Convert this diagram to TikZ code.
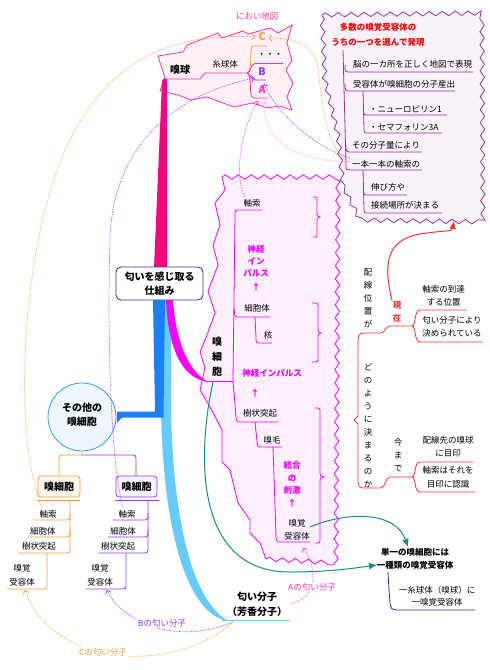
\documentclass[tikz,border=0pt]{standalone}
\usepackage{fontspec}
\setmainfont{Noto Sans CJK JP}
\usetikzlibrary{arrows.meta,decorations.pathmorphing}
\definecolor{dpink}{HTML}{FF0080}
\definecolor{qpink}{HTML}{FF3399}
\definecolor{qfill}{HTML}{FFF0F7}
\definecolor{mag}{HTML}{FF00FF}
\definecolor{magfill}{HTML}{FFF0FF}
\definecolor{apink}{HTML}{FF33CC}
\definecolor{lpink}{HTML}{FF99EE}
\definecolor{blu}{HTML}{1A80FF}
\definecolor{lblu}{HTML}{66CCFF}
\definecolor{org}{HTML}{FF9933}
\definecolor{orgfill}{HTML}{FFF6EC}
\definecolor{pur}{HTML}{9933FF}
\definecolor{purfill}{HTML}{F6F0FF}
\definecolor{vio}{HTML}{993399}
\definecolor{viofill}{HTML}{FAF2FA}
\definecolor{tea}{HTML}{1F8A85}
\definecolor{rd}{HTML}{FF3333}
\definecolor{titlered}{HTML}{FF0000}
\definecolor{navy}{HTML}{333399}
\definecolor{cblu}{HTML}{3399FF}
\definecolor{cfill}{HTML}{EEF6FF}
\begin{document}
\begin{tikzpicture}[x=1pt,y=-1pt,
  t/.style={font=\fontsize{8.5}{13}\selectfont, inner sep=0pt, align=center},
  tl/.style={t, anchor=west},
  tten/.style={font=\bfseries\fontsize{10.5}{12}\selectfont, inner sep=0pt},
  tb/.style={font=\bfseries\fontsize{10}{14.5}\selectfont, inner sep=0pt, align=center},
  tsb/.style={font=\bfseries\fontsize{8.5}{12.5}\selectfont, inner sep=0pt, align=center},
  ln/.style={line width=0.8pt},
  dotc/.style={densely dotted, line width=0.7pt, -{Straight Barb[length=3pt,width=6pt]}},
  jagdec/.style={decoration={zigzag, segment length=13pt, amplitude=2.2pt}},
  tip/.style={-{Latex[length=8pt,width=7pt]}},
]
\useasboundingbox (0,0) rectangle (490,670);

% ---------- shapes ----------
\filldraw[qpink, fill=qfill, line width=0.8pt] (158,56) -- (183,52) -- (187,45) -- (218,33) -- (222,38) -- (243,31) -- (248,34) -- (270,28) -- (278,33) -- (292,25) -- (287,43) -- (292,60) -- (286,70) -- (293,83) -- (287,97) -- (292,110) -- (279,106) -- (268,108) -- (252,103) -- (234,107) -- (207,97) -- (191,100) -- (178,95) -- (160,91) -- (165,78) -- cycle;

\filldraw[vio, fill=viofill, line width=0.8pt, decorate, jagdec] (322,15) -- (482,13) -- (483,222) -- (360,220) -- (343,186) -- (338,135) -- (325,80) -- cycle;

\filldraw[mag, fill=magfill, line width=0.8pt] decorate[jagdec]{(222,177) -- (338,177) -- (336,563) -- (266,559)} -- (260,543) -- (250,533) -- (250,520) -- (238,503) -- (230,470) -- (222,462) -- (222,430) -- (210,407) -- (200,390) -- (205,368) -- (200,352) -- (207,335) -- (215,313) -- (208,291) -- (218,265) -- (213,245) -- (220,225) -- (215,203) -- (225,190) -- cycle;

% ---------- main branches ----------
\fill[lblu] (160,300) -- (161,410) .. controls (163,520) and (183,605) .. (222,619.5) -- (228,621) .. controls (192,600) and (173,520) .. (171,410) -- (171,300) -- cycle;
\draw[lblu, line width=1pt] (222,620.5) -- (290,620.5);
\fill[blu] (153,300) -- (155,411.5) -- (117,411.5) -- (117,423) -- (122,417.5) -- (163.5,417.5) -- (165,300) -- cycle;
\fill[mag] (166,300) .. controls (168,345) and (180,378) .. (208,382) .. controls (190,372) and (176,345) .. (173,300) -- cycle;
\fill[dpink] (154,268) -- (162,82) .. controls (162.5,79) .. (166,78.5) -- (167,79) -- (167,268) -- cycle;

\node[tb, draw=navy, fill=white, rounded corners=5pt, line width=0.9pt, minimum width=87pt, minimum height=33pt] (root) at (159.5,283.5) {匂いを感じ取る\\仕組み};

% ---------- olfactory bulb ----------
\node[t, text=qpink] (nmap) at (257,16) {におい地図};
\node[tb] (kyu) at (180,70) {嗅球};
\node[t] (shi) at (225,64) {糸球体};
\node[tten, text=org] (nC) at (262,37) {C};
\node[t] (ndots) at (270,55) {・・・};
\node[tten, text=pur] (nB) at (262,72) {B};
\node[tten, text=apink] (nA) at (262,90) {A};
\draw[qpink,ln] (166,79) -- (200,79) -- (205,73) -- (247,73);
\draw[org,ln] (247,73) .. controls (251,73) and (250.5,60) .. (251,52) .. controls (251.5,46) .. (256,46) -- (267,46);
\draw[qpink,ln] (247,73) .. controls (251,73) and (250,64) .. (255,63.5) -- (283,63.5);
\draw[pur,ln] (247,73) .. controls (250,73) and (250,80) .. (255,80) -- (266,80);
\draw[apink,ln] (247,73) .. controls (251,73) and (250,90) .. (251,94) .. controls (252,98) .. (256,98) -- (268,98);
\coordinate (cL) at (255.5,37);
\coordinate (cR) at (268.5,38);
\coordinate (bL) at (255,78);
\coordinate (bB) at (264,84);
\coordinate (aB) at (264,101);
\coordinate (aL) at (258,101);

% ---------- purple box ----------
\node[tsb, text=titlered, font=\bfseries\fontsize{8.5}{15}\selectfont] (title) at (378,34.5) {多数の嗅覚受容体の\\うちの一つを選んで発現};
\draw[vio,ln] (343,50) -- (346,164) .. controls (346,170) .. (352,170) -- (422,170);
\draw[vio,ln] (345,65) .. controls (345,72) .. (351,72) -- (473,72);
\draw[vio,ln] (345,84) .. controls (345,91) .. (351,91) -- (455,91);
\draw[vio,ln] (346,145) .. controls (346,152) .. (352,152) -- (422,152);
\draw[vio,ln] (363,91) -- (364,128) .. controls (364,133) .. (369,133) -- (442,133);
\draw[vio,ln] (363.5,109) .. controls (363.5,115) .. (369,115) -- (447,115);
\draw[vio,ln] (363,170) -- (364,208) .. controls (364,213) .. (369,213) -- (442,213);
\draw[vio,ln] (363.5,189) .. controls (363.5,195) .. (369,195) -- (407,195);
\node[tl] (p1) at (353,64) {脳の一カ所を正しく地図で表現};
\node[tl] (p2) at (353,84) {受容体が嗅細胞の分子産出};
\node[tl] (p3) at (369,109) {・ニューロピリン1};
\node[tl] (p4) at (369,127) {・セマフォリン3A};
\node[tl] (p5) at (352,145) {その分子量により};
\node[tl] (p6) at (352,164) {一本一本の軸索の};
\node[tl] (p7) at (371,187) {伸び方や};
\node[tl] (p8) at (371,205) {接続場所が決まる};
\coordinate (axs) at (350,162);

% ---------- red brace ----------
\draw[rd,ln] (412,326) -- (390,326) .. controls (385,326) and (386,333) .. (380,333) -- (364,333) .. controls (359,333) and (358,336) .. (358,340) -- (358,416) -- (354,420) -- (358,424) -- (358,481) .. controls (358,486) and (359,488) .. (364,488) -- (380,488) .. controls (386,488) and (385,477) .. (390,477) -- (412,477);
\draw[rd,ln] (412,326) .. controls (416,326) and (414,310) .. (420,310) -- (467,310);
\draw[rd,ln] (412,326) .. controls (416,326) and (414,342) .. (420,342) -- (483,342);
\draw[rd,ln] (412,477) .. controls (416,477) and (414,462) .. (420,462) -- (473,462);
\draw[rd,ln] (412,477) .. controls (416,477) and (414,492) .. (420,492) -- (475,492);
\node[t] (v1) at (368,298) {配\\線\\位\\置\\が};
\node[t] (v2) at (368,425.5) {ど\\の\\よ\\う\\に\\決\\ま\\る\\の\\か};
\node[tsb, text=rd, font=\bfseries\fontsize{8.5}{13}\selectfont] (now) at (397,311.5) {現\\在};
\node[t] (past) at (398,455) {今\\ま\\で};
\node[t, font=\fontsize{8.5}{12.5}\selectfont] (r1) at (443.5,296) {軸索の到達\\する位置};
\node[t] (r2) at (452,326.5) {匂い分子により\\決められている};
\node[t] (r3) at (448,446.5) {配線先の嗅球\\に目印};
\node[t, font=\fontsize{8.5}{14.5}\selectfont] (r4) at (448,477.5) {軸索はそれを\\目印に認識};
\coordinate (boxbot) at (454,221);
\coordinate (nowT) at (392,300);
\draw[rd, line width=1pt, tip] (nowT) .. controls (384,268) and (384,240) .. (420,234) .. controls (445,230) and (452,232) .. (boxbot);

% ---------- olfactory cell ----------
\draw[mag,ln] (205,381) -- (233,381);
\draw[mag,ln] (233,381) -- (235,216) .. controls (235,210) .. (241,210) -- (262,210);
\draw[mag,ln] (234.5,310) .. controls (234.5,317) .. (241,317) -- (270,317);
\draw[mag,ln] (255,317) -- (256,337) .. controls (256,343) .. (262,343) -- (272,343);
\draw[mag,ln] (233,381) -- (236,416) .. controls (236.5,422) .. (242,422) -- (278,422);
\draw[mag,ln] (255,422) -- (257,441) .. controls (257.5,447) .. (263,447) -- (282,447);
\draw[mag,ln] (273,447) -- (276,536) .. controls (276.5,542) .. (282,542) -- (310,542);
\draw[mag,ln] (313,197) .. controls (317,197) .. (317,201) -- (317,213) .. controls (317,216) .. (320,217) .. controls (317,218) .. (317,221) -- (317,233) .. controls (317,237) .. (313,237);
\draw[mag,ln] (312,303) .. controls (318,303) .. (318,307) -- (318,329) .. controls (318,332) .. (321,333) .. controls (318,334) .. (318,337) -- (318,358) .. controls (318,362) .. (312,362);
\draw[mag,ln] (315,408) .. controls (320,408) .. (320,412) -- (320,473) .. controls (320,476) .. (324,477) .. controls (320,478) .. (320,481) -- (320,538) .. controls (320,543) .. (315,543);
\node[tb, font=\bfseries\fontsize{10}{15}\selectfont] (sc) at (217,357) {嗅\\細\\胞};
\node[t] (ax) at (252,203) {軸索};
\node[tsb, text=mag, font=\bfseries\fontsize{8.5}{12}\selectfont] (imp1) at (256,261) {神経\\イン\\パルス};
\node[tsb, text=mag] (ar1) at (256,287) {↑};
\node[t] (cb) at (257,308) {細胞体};
\node[t] (kaku) at (268,335) {核};
\node[tsb, text=mag] (imp2) at (272,373) {神経インパルス};
\node[tsb, text=mag] (ar2) at (255,393) {↑};
\node[t] (jus) at (260,413) {樹状突起};
\node[t] (mou) at (272,440) {嗅毛};
\node[tsb, text=mag] (ket) at (292,478) {結合\\の\\刺激};
\node[tsb, text=mag] (ar3) at (292,503) {↑};
\node[t] (rec) at (297,529.5) {嗅覚\\受容体};
\coordinate (recR) at (310,527);
\coordinate (recB) at (303,548);
\coordinate (scB) at (213,382);
\coordinate (axT) at (245,197);

% ---------- one cell one receptor ----------
\node[tsb] (single) at (415,558.5) {単一の嗅細胞には\\一種類の嗅覚受容体};
\draw[navy,ln] (388,572) .. controls (389,590) .. (390,603) .. controls (391,609) .. (397,610) -- (475,610);
\node[t, font=\fontsize{8.5}{12.5}\selectfont] (one) at (437,596) {一糸球体（嗅球）に\\一嗅覚受容体};
\coordinate (singT) at (408,547);
\coordinate (singL) at (377,565);
\draw[tea, line width=1pt, tip] (recR) .. controls (345,512) and (395,510) .. (singT);
\draw[tea, line width=1pt, tip] (scB) .. controls (198,450) and (192,572) .. (290,572) .. controls (330,572) and (355,568) .. (singL);

% ---------- other cells ----------
\node[circle, draw=cblu, fill=cfill, line width=0.8pt, minimum size=68pt, inner sep=0pt] (other) at (82,417) {};
\node[tb] (otherT) at (82,414.5) {その他の\\嗅細胞};
\draw[org,ln] (other.south) -- (82,455) -- (65,455) .. controls (59,455) .. (59,461) -- (59,476);
\draw[pur,ln] (82,455) -- (130,455) .. controls (136,455) .. (136,461) -- (136,476);
\node[tb, draw=org, fill=orgfill, rounded corners=3pt, minimum width=42pt, minimum height=21pt, line width=0.8pt] (oc) at (59,486.5) {嗅細胞};
\node[tb, draw=pur, fill=purfill, rounded corners=3pt, minimum width=41pt, minimum height=21pt, line width=0.8pt] (pc) at (136.5,486.5) {嗅細胞};
\draw[org,ln] (37,500) -- (80,500);
\draw[org,ln] (70,500) -- (70,547) .. controls (70,553) .. (64,553) -- (18,553);
\draw[org,ln] (70,513) .. controls (70,520) .. (64,520) -- (33,520);
\draw[org,ln] (70,530) .. controls (70,537) .. (64,537) -- (28,537);
\draw[org,ln] (47,553) -- (47,583) .. controls (47,589) .. (41,589) -- (7,589);
\draw[pur,ln] (115,500) -- (159,500);
\draw[pur,ln] (148,500) -- (148,547) .. controls (148,553) .. (142,553) -- (98,553);
\draw[pur,ln] (148,513) .. controls (148,520) .. (142,520) -- (113,520);
\draw[pur,ln] (148,530) .. controls (148,537) .. (142,537) -- (108,537);
\draw[pur,ln] (126,553) -- (126,583) .. controls (126,589) .. (120,589) -- (86,589);
\node[t] (o1) at (48,514) {軸索};
\node[t] (o2) at (43,531) {細胞体};
\node[t] (o3) at (39,546) {樹状突起};
\node[t, font=\fontsize{8.5}{14}\selectfont] (o4) at (22,575) {嗅覚\\受容体};
\node[t] (q1) at (127,514) {軸索};
\node[t] (q2) at (123,531) {細胞体};
\node[t] (q3) at (118,546) {樹状突起};
\node[t, font=\fontsize{8.5}{14}\selectfont] (q4) at (100,575) {嗅覚\\受容体};
\coordinate (oRec) at (25,590);
\coordinate (pRec) at (107,590);
\coordinate (oAx) at (42,508);
\coordinate (pAx) at (123,508);

% ---------- odor molecules ----------
\node[tb] (mol) at (257,604) {匂い分子\\（芳香分子）};
\coordinate (molR) at (290,604);
\coordinate (molB) at (233,622);

% ---------- dotted connectors ----------
\draw[org, dotc] (oAx) .. controls (15,440) and (22,300) .. (45,210) .. controls (75,90) and (140,30) .. (cL);
\draw[org, dotc] (axs) .. controls (325,150) and (322,100) .. (318,68) .. controls (315,45) and (295,38) .. (cR);
\draw[pur, dotc] (pAx) .. controls (108,450) and (108,300) .. (110,240) .. controls (112,150) and (170,95) .. (bL);
\draw[pur, dotc] (350,158) .. controls (310,145) and (275,110) .. (bB);
\draw[lpink, dotc] (axs) .. controls (290,160) and (264,140) .. (aB);
\draw[apink, dotc] (axT) .. controls (234,178) and (240,130) .. (aL);

\draw[apink, dotc] (molR) .. controls (312,600) and (315,580) .. (312,568) .. controls (310,558) .. (recB);
\node[t, text=apink, fill=white, inner sep=1pt] (la) at (312,587) {Aの匂い分子};
\draw[pur, dotc] (molB) .. controls (200,636) and (168,633) .. (148,625) .. controls (125,615) and (112,602) .. (pRec);
\node[t, text=pur, fill=white, inner sep=1pt] (lb) at (162,623) {Bの匂い分子};
\draw[org, dotc] (molB) .. controls (200,652) and (150,660) .. (110,655) .. controls (70,648) and (35,622) .. (oRec);
\node[t, text=org, fill=white, inner sep=1pt] (lc) at (103,652) {Cの匂い分子};
\end{tikzpicture}
\end{document}
